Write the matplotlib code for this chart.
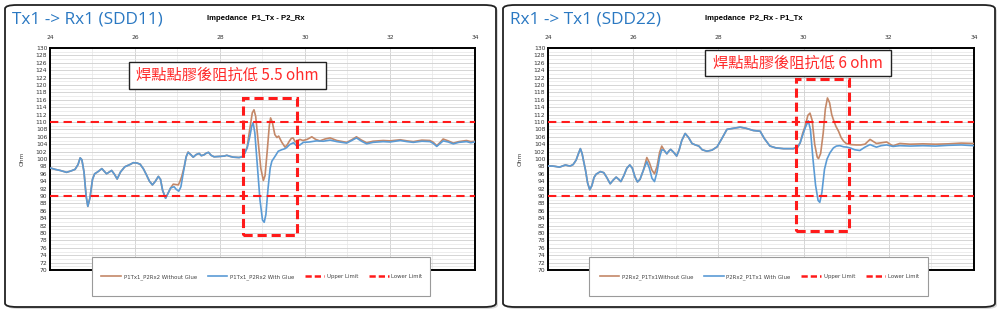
import matplotlib
matplotlib.use("Agg")
import matplotlib.pyplot as plt
from matplotlib.lines import Line2D
from matplotlib.patches import FancyBboxPatch, Rectangle
import matplotlib.ticker as ticker

# ---- data: SDD11 (Tx1 -> Rx1) ----
t11_wo = [24.00, 24.12, 24.24, 24.39, 24.50, 24.59, 24.66, 24.71, 24.75, 24.80, 24.85, 24.89,
          24.94, 25.00, 25.05, 25.12, 25.22, 25.33, 25.45, 25.52, 25.58, 25.66, 25.76, 25.88,
          25.96, 26.05, 26.12, 26.20, 26.27, 26.34, 26.41, 26.48, 26.55, 26.60, 26.65, 26.72,
          26.78, 26.84, 26.90, 26.96, 27.02, 27.06, 27.10, 27.16, 27.21, 27.25, 27.31, 27.37,
          27.44, 27.51, 27.56, 27.62, 27.68, 27.73, 27.79, 27.86, 28.00, 28.10, 28.16, 28.24,
          28.31, 28.45, 28.52, 28.58, 28.64, 28.70, 28.76, 28.80, 28.84, 28.90, 28.96, 29.02,
          29.06, 29.11, 29.16, 29.19, 29.23, 29.29, 29.34, 29.38, 29.45, 29.53, 29.58, 29.63,
          29.68, 29.72, 29.77, 29.82, 29.88, 29.95, 30.05, 30.16, 30.25, 30.35, 30.47, 30.59,
          30.75, 30.98, 31.10, 31.21, 31.33, 31.45, 31.60, 31.84, 32.00, 32.24, 32.40, 32.55,
          32.75, 32.94, 33.02, 33.10, 33.18, 33.25, 33.37, 33.49, 33.62, 33.80, 33.90, 34.00]
z11_wo = [97.6, 97.2, 96.9, 96.4, 96.8, 97.2, 98.5, 100.3, 99.8, 96.5, 90.0, 87.2,
          89.5, 94.5, 96.0, 96.5, 97.4, 96.0, 96.9, 95.8, 94.6, 96.5, 97.9, 98.5,
          99.0, 98.9, 98.6, 97.3, 95.7, 94.0, 93.0, 94.0, 95.3, 94.5, 91.5, 89.4,
          90.8, 92.2, 93.2, 93.1, 93.0, 94.0, 95.3, 98.0, 100.8, 101.9, 101.2, 100.5,
          101.2, 101.5, 100.9, 101.1, 101.6, 101.8, 101.0, 100.6, 100.7, 100.8, 101.0, 100.7,
          100.5, 100.4, 100.6, 101.6, 103.3, 108.0, 112.5, 113.3, 111.5, 104.5, 97.5, 94.2,
          95.5, 102.0, 109.0, 111.1, 110.0, 106.6, 105.8, 106.2, 104.6, 103.2, 103.8, 104.8,
          105.6, 105.7, 104.6, 104.9, 105.3, 105.0, 105.3, 106.0, 105.3, 104.9, 105.4, 105.7,
          105.0, 104.5, 105.2, 106.0, 105.1, 104.4, 104.8, 105.0, 104.9, 105.2, 104.9, 104.7,
          105.1, 105.0, 104.5, 103.6, 104.5, 105.4, 104.9, 104.3, 104.7, 105.0, 104.7, 104.8]

t11_w = [24.00, 24.12, 24.24, 24.39, 24.50, 24.59, 24.66, 24.71, 24.75, 24.80, 24.85, 24.89,
         24.94, 25.00, 25.05, 25.12, 25.22, 25.33, 25.45, 25.52, 25.58, 25.66, 25.76, 25.88,
         25.96, 26.05, 26.12, 26.20, 26.27, 26.34, 26.41, 26.48, 26.55, 26.60, 26.65, 26.72,
         26.78, 26.84, 26.92, 26.97, 27.03, 27.08, 27.14, 27.20, 27.25, 27.31, 27.37, 27.44,
         27.51, 27.56, 27.62, 27.68, 27.73, 27.79, 27.86, 28.00, 28.10, 28.16, 28.24, 28.31,
         28.45, 28.52, 28.58, 28.64, 28.70, 28.75, 28.78, 28.82, 28.88, 28.94, 29.00, 29.04,
         29.08, 29.13, 29.18, 29.22, 29.30, 29.37, 29.45, 29.53, 29.57, 29.64, 29.73, 29.80,
         29.88, 29.96, 30.10, 30.27, 30.43, 30.59, 30.75, 30.98, 31.10, 31.21, 31.33, 31.45,
         31.60, 31.84, 32.00, 32.24, 32.40, 32.55, 32.75, 32.94, 33.02, 33.10, 33.18, 33.25,
         33.37, 33.49, 33.62, 33.80, 33.90, 34.00]
z11_w = [97.6, 97.2, 96.9, 96.4, 96.8, 97.2, 98.5, 100.3, 99.8, 96.5, 90.0, 87.2,
         89.5, 94.5, 96.0, 96.5, 97.4, 96.0, 96.9, 95.8, 94.6, 96.5, 97.9, 98.5,
         99.0, 98.9, 98.6, 97.3, 95.7, 94.0, 93.0, 94.0, 95.3, 94.5, 91.5, 89.4,
         90.8, 92.2, 92.5, 91.8, 91.3, 92.5, 96.5, 100.5, 101.8, 101.2, 100.5, 101.2,
         101.5, 100.9, 101.1, 101.6, 101.8, 101.0, 100.6, 100.7, 100.8, 101.0, 100.7, 100.5,
         100.4, 100.6, 101.5, 103.0, 106.0, 109.0, 109.8, 107.0, 98.0, 89.0, 83.5, 82.9,
         85.0, 92.0, 97.5, 99.4, 100.8, 102.1, 102.5, 102.8, 103.1, 103.9, 104.4, 103.6,
         103.8, 104.5, 104.6, 104.9, 104.8, 105.1, 104.7, 104.3, 105.0, 105.7, 104.8, 104.1,
         104.5, 104.7, 104.6, 105.0, 104.7, 104.5, 104.8, 104.7, 104.2, 103.4, 104.2, 104.9,
         104.6, 104.1, 104.5, 104.7, 104.4, 104.6]

# ---- data: SDD22 (Rx1 -> Tx1) ----
t22_wo = [24.00, 24.10, 24.17, 24.27, 24.34, 24.41, 24.47, 24.52, 24.59, 24.66, 24.71, 24.76,
          24.80, 24.84, 24.88, 24.93, 24.98, 25.03, 25.08, 25.13, 25.23, 25.31, 25.38, 25.46,
          25.53, 25.60, 25.66, 25.71, 25.78, 25.85, 25.92, 25.98, 26.04, 26.10, 26.16, 26.24,
          26.32, 26.38, 26.44, 26.50, 26.56, 26.62, 26.67, 26.73, 26.79, 26.84, 26.88, 26.95,
          27.02, 27.08, 27.14, 27.22, 27.30, 27.38, 27.46, 27.54, 27.62, 27.73, 27.85, 27.97,
          28.08, 28.20, 28.35, 28.51, 28.65, 28.82, 28.98, 29.08, 29.21, 29.35, 29.53, 29.76,
          29.86, 29.92, 29.98, 30.04, 30.10, 30.15, 30.20, 30.26, 30.32, 30.35, 30.40, 30.46,
          30.51, 30.56, 30.61, 30.66, 30.70, 30.76, 30.82, 30.88, 30.94, 31.00, 31.10, 31.24,
          31.34, 31.44, 31.56, 31.64, 31.71, 31.83, 31.95, 32.03, 32.10, 32.18, 32.26, 32.50,
          32.80, 33.10, 33.40, 33.70, 34.00]
z22_wo = [98.1, 98.1, 98.0, 97.8, 98.1, 98.4, 98.2, 98.1, 98.5, 99.7, 101.3, 102.8,
          101.5, 99.2, 97.0, 93.5, 91.7, 92.8, 95.0, 95.9, 96.6, 96.3, 95.0, 93.3,
          94.3, 95.1, 94.5, 93.9, 95.5, 97.5, 98.4, 97.5, 95.2, 93.8, 94.5, 97.0,
          100.4, 99.0, 97.0, 96.0, 98.0, 101.8, 103.5, 102.3, 101.4, 102.2, 102.6, 101.8,
          100.8, 102.5, 105.0, 106.9, 105.8, 104.2, 103.8, 103.5, 102.5, 102.1, 102.4, 103.3,
          105.5, 108.0, 108.3, 108.6, 108.3, 107.7, 107.5, 105.5, 103.5, 103.0, 102.8, 102.8,
          103.2, 104.4, 107.0, 109.0, 111.8, 112.4, 110.5, 104.0, 100.5, 100.1, 101.5, 107.0,
          113.5, 116.5, 115.2, 112.0, 110.6, 108.8, 107.5, 105.8, 104.8, 104.2, 103.9, 103.8,
          103.8, 104.0, 105.3, 104.7, 104.2, 104.4, 104.6, 104.0, 103.5, 103.9, 104.2, 104.0,
          104.1, 104.0, 104.1, 104.3, 104.2]

t22_w = [24.00, 24.10, 24.17, 24.27, 24.34, 24.41, 24.47, 24.52, 24.59, 24.66, 24.71, 24.76,
         24.80, 24.84, 24.88, 24.93, 24.98, 25.03, 25.08, 25.13, 25.23, 25.31, 25.38, 25.46,
         25.53, 25.60, 25.66, 25.71, 25.78, 25.85, 25.92, 25.98, 26.04, 26.10, 26.16, 26.24,
         26.32, 26.38, 26.44, 26.50, 26.56, 26.62, 26.67, 26.73, 26.79, 26.84, 26.88, 26.95,
         27.02, 27.08, 27.14, 27.22, 27.30, 27.38, 27.46, 27.54, 27.62, 27.73, 27.85, 27.97,
         28.08, 28.20, 28.35, 28.51, 28.65, 28.82, 28.98, 29.08, 29.21, 29.35, 29.53, 29.76,
         29.86, 29.92, 29.98, 30.04, 30.11, 30.16, 30.22, 30.28, 30.34, 30.38, 30.43, 30.49,
         30.55, 30.62, 30.70, 30.77, 30.85, 30.94, 31.02, 31.09, 31.20, 31.32, 31.44, 31.56,
         31.64, 31.71, 31.82, 31.95, 32.10, 32.26, 32.50, 32.80, 33.10, 33.40, 33.70, 34.00]
z22_w = [98.1, 98.1, 98.0, 97.8, 98.1, 98.4, 98.2, 98.1, 98.5, 99.7, 101.3, 102.8,
         101.5, 99.2, 97.0, 93.5, 91.7, 92.8, 95.0, 95.9, 96.6, 96.3, 95.0, 93.3,
         94.3, 95.1, 94.5, 93.9, 95.5, 97.5, 98.4, 97.5, 95.2, 93.8, 94.5, 97.0,
         99.3, 97.5, 94.8, 93.9, 96.5, 100.5, 102.5, 102.3, 101.4, 102.2, 102.6, 101.8,
         100.8, 102.5, 105.0, 106.9, 105.8, 104.2, 103.8, 103.5, 102.5, 102.1, 102.4, 103.3,
         105.5, 108.0, 108.3, 108.6, 108.3, 107.7, 107.5, 105.5, 103.5, 103.0, 102.8, 102.8,
         103.2, 104.4, 106.5, 108.5, 110.3, 108.0, 100.0, 93.0, 88.8, 88.3, 91.0, 97.2,
         100.0, 101.7, 103.0, 103.5, 103.6, 103.3, 103.2, 103.0, 102.5, 102.3, 103.2, 103.9,
         103.5, 103.2, 103.6, 103.8, 103.4, 103.6, 103.5, 103.6, 103.5, 103.7, 103.8, 103.6]

UPPER_LIMIT = 110
LOWER_LIMIT = 90

C_WO = "#c48868"
C_W = "#5b9bd5"
C_LIMIT = "#ff1a1a"
C_TITLE = "#2a78c2"
CJK = ["Noto Sans CJK TC", "DejaVu Sans"]

W, H = 1000, 313


def fx(px):
    return px / W


def fy(py):
    return 1 - py / H


def panel_frame(fig, x0, x1):
    # drop shadow + rounded white card
    shadow = FancyBboxPatch((fx(x0 + 2), fy(309)), fx(x1 - x0), fy(7) - fy(309),
                            boxstyle="round,pad=0,rounding_size=0.012",
                            transform=fig.transFigure, facecolor="#d8d8d8",
                            edgecolor="none", zorder=-3)
    card = FancyBboxPatch((fx(x0), fy(307)), fx(x1 - x0), fy(5) - fy(307),
                          boxstyle="round,pad=0,rounding_size=0.012",
                          transform=fig.transFigure, facecolor="white",
                          edgecolor="#222222", linewidth=1.3, zorder=-2)
    fig.patches.extend([shadow, card])


def draw_panel(fig, ax_px, heading, title, t_wo, z_wo, t_w, z_w, labels,
               note, note_box, glue_box, legend_px):
    x0, x1 = ax_px
    ax = fig.add_axes([fx(x0), fy(270), fx(x1 - x0), fy(48) - fy(270)])

    ax.plot(t_wo, z_wo, color=C_WO, lw=1.2, zorder=3)
    ax.plot(t_w, z_w, color=C_W, lw=1.2, zorder=4)
    ax.axhline(UPPER_LIMIT, color=C_LIMIT, lw=1.5, ls=(0, (4, 2.5)), zorder=5)
    ax.axhline(LOWER_LIMIT, color=C_LIMIT, lw=1.5, ls=(0, (4, 2.5)), zorder=5)

    ax.set_xlim(24, 34)
    ax.set_ylim(70, 130)
    ax.xaxis.tick_top()
    ax.xaxis.set_major_locator(ticker.MultipleLocator(2))
    ax.xaxis.set_minor_locator(ticker.MultipleLocator(1))
    ax.yaxis.set_major_locator(ticker.MultipleLocator(2))
    ax.yaxis.set_minor_locator(ticker.MultipleLocator(1))
    ax.tick_params(axis="both", which="both", length=0, labelsize=4.3,
                   colors="#333333", pad=2)
    ax.tick_params(axis="x", pad=6)
    ax.grid(True, which="major", axis="both", color="#cfcfcf", lw=0.6, zorder=0)
    ax.grid(True, which="minor", axis="both", color="#e6e6e6", lw=0.5, zorder=0)
    ax.set_axisbelow(True)
    for s in ax.spines.values():
        s.set_linewidth(1.4)
        s.set_color("black")
    ax.set_ylabel("Ohm", fontsize=4.3, color="#444444", labelpad=8)

    # glue area marker
    gx0, gx1, gy0, gy1 = glue_box
    ax.add_patch(Rectangle((gx0, gy0), gx1 - gx0, gy1 - gy0, fill=False,
                           edgecolor=C_LIMIT, lw=2.2, ls=(0, (3, 1.6)), zorder=6,
                           clip_on=False))

    # note box
    nx0, nx1, ny0, ny1 = note_box
    ax.add_patch(Rectangle((nx0, ny0), nx1 - nx0, ny1 - ny0, facecolor="white",
                           edgecolor="#222222", lw=1.0, zorder=7))
    ax.text((nx0 + nx1) / 2, (ny0 + ny1) / 2, note, color="#ff2a2a", fontsize=11,
            family=CJK, ha="center", va="center", zorder=8)

    fig.text(fx(x0 - 38), fy(20), heading, color=C_TITLE, fontsize=12.4,
             family="Open Sans", ha="left", va="center")
    fig.text(fx((x0 + x1) / 2 - 7), fy(18), title, fontsize=5.6, weight="bold",
             family="Liberation Sans", ha="center", va="center")

    # legend panel overlapping the bottom of the plot
    lx0, lx1 = legend_px
    fig.patches.append(Rectangle((fx(lx0), fy(296)), fx(lx1 - lx0), fy(257) - fy(296),
                                 transform=fig.transFigure, facecolor="white",
                                 edgecolor="#9a9a9a", lw=0.8, zorder=2))
    handles = [
        Line2D([], [], color=C_WO, lw=1.2),
        Line2D([], [], color=C_W, lw=1.2),
        Line2D([], [], color=C_LIMIT, lw=1.8, ls=(0, (2.5, 1.2))),
        Line2D([], [], color=C_LIMIT, lw=1.8, ls=(0, (2.5, 1.2))),
    ]
    leg = fig.legend(handles, labels, loc="center",
                     bbox_to_anchor=(fx((lx0 + lx1) / 2 + 1), fy(277)),
                     ncol=4, frameon=False, fontsize=3.9, handlelength=3.6,
                     handletextpad=0.5, columnspacing=2.0)
    leg.set_zorder(3)
    for txt in leg.get_texts():
        txt.set_color("#444444")
    return ax


def main():
    fig = plt.figure(figsize=(W / 100, H / 100), dpi=100)
    fig.patch.set_facecolor("white")

    panel_frame(fig, 5, 496)
    panel_frame(fig, 503, 995)

    draw_panel(fig, (50, 475), "Tx1 -> Rx1 (SDD11)", "Impedance  P1_Tx - P2_Rx",
               t11_wo, z11_wo, t11_w, z11_w,
               ["P1Tx1_P2Rx2 Without Glue", "P1Tx1_P2Rx2 With Glue",
                "Upper Limit", "Lower Limit"],
               "焊點點膠後阻抗低 5.5 ohm",
               (25.86, 30.49, 119.0, 126.2),
               (28.54, 29.81, 79.5, 116.6),
               (92, 430))

    draw_panel(fig, (548, 974), "Rx1 -> Tx1 (SDD22)", "Impedance  P2_Rx - P1_Tx",
               t22_wo, z22_wo, t22_w, z22_w,
               ["P2Rx2_P1Tx1Without Glue", "P2Rx2_P1Tx1 With Glue",
                "Upper Limit", "Lower Limit"],
               "焊點點膠後阻抗低 6 ohm",
               (27.69, 32.05, 122.5, 129.5),
               (29.82, 31.07, 80.5, 121.7),
               (589, 928))

    fig.savefig("out.png", dpi=100, facecolor="white")
    plt.close(fig)


if __name__ == "__main__":
    main()
